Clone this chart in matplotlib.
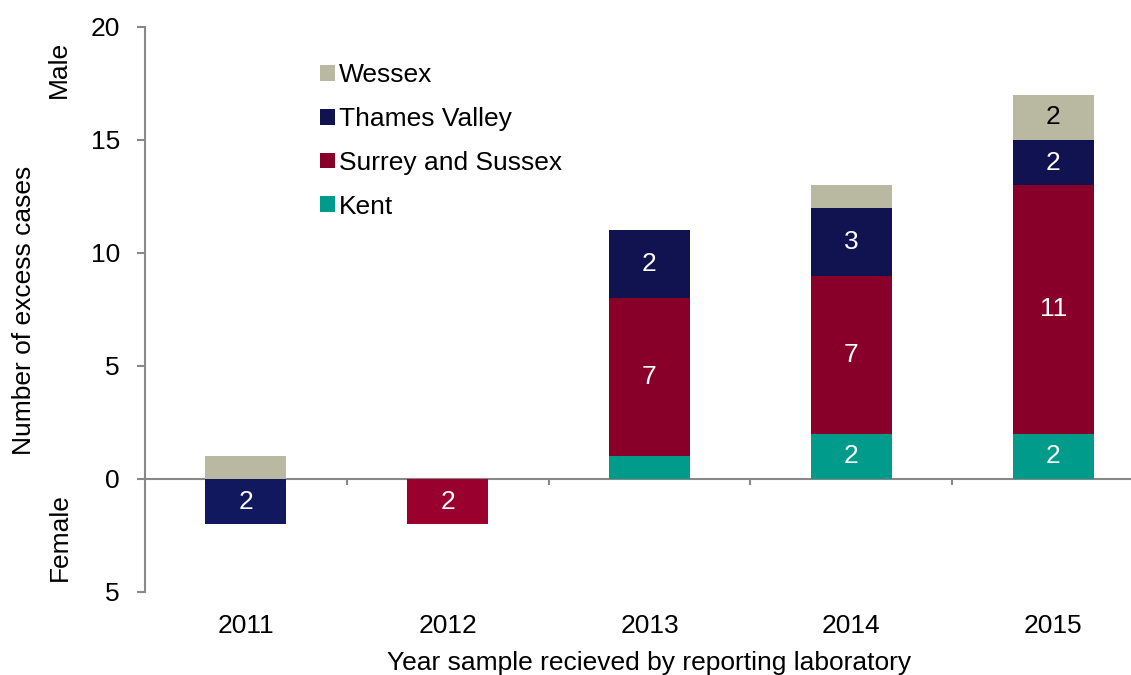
import numpy as np
from matplotlib import pyplot as plt
from matplotlib.ticker import FuncFormatter

plt.rcParams["font.family"] = ["Liberation Sans", "DejaVu Sans"]

years = ["2011", "2012", "2013", "2014", "2015"]
regions = ["Kent", "Surrey and Sussex", "Thames Valley", "Wessex"]

# male cases (stacked above zero)
male = {
    "Kent": [0, 0, 1, 2, 2],
    "Surrey and Sussex": [0, 0, 7, 7, 11],
    "Thames Valley": [0, 0, 3, 3, 2],
    "Wessex": [1, 0, 0, 1, 2],
}
# labels as printed in the original
male_labels = {
    "Kent": ["", "", "", "2", "2"],
    "Surrey and Sussex": ["", "", "7", "7", "11"],
    "Thames Valley": ["", "", "2", "3", "2"],
    "Wessex": ["", "", "", "", "2"],
}
# female cases (drawn below zero)
female = {
    "Kent": [0, 0, 0, 0, 0],
    "Surrey and Sussex": [0, 2, 0, 0, 0],
    "Thames Valley": [2, 0, 0, 0, 0],
    "Wessex": [0, 0, 0, 0, 0],
}

colors = {
    "Kent": "#009B8A",
    "Surrey and Sussex": "#88002A",
    "Thames Valley": "#10134F",
    "Wessex": "#B9B9A1",
}
female_colors = {
    "Kent": "#009B8A",
    "Surrey and Sussex": "#99002E",
    "Thames Valley": "#12185E",
    "Wessex": "#B9B9A1",
}
text_colors = {"Kent": "white", "Surrey and Sussex": "white",
               "Thames Valley": "white", "Wessex": "black"}

fig = plt.figure(figsize=(11.31, 6.75), dpi=100)
ax = fig.add_axes([0.128, 0.123, 0.8925, 0.837])

x = np.arange(len(years))
bw = 0.40
fs = 19

bottom = np.zeros(len(years))
bars = {}
for r in regions:
    vals = np.array(male[r], dtype=float)
    bars[r] = ax.bar(x, vals, bw, bottom=bottom, color=colors[r], label=r)
    for i, lab in enumerate(male_labels[r]):
        if lab:
            ax.text(x[i], bottom[i] + vals[i] / 2, lab, ha="center", va="center",
                    color=text_colors[r], fontsize=fs)
    bottom += vals

fbottom = np.zeros(len(years))
for r in regions:
    vals = np.array(female[r], dtype=float)
    ax.bar(x, -vals, bw, bottom=fbottom, color=female_colors[r])
    for i, v in enumerate(vals):
        if v >= 2:
            ax.text(x[i], fbottom[i] - v / 2, f"{int(v)}", ha="center", va="center",
                    color=text_colors[r], fontsize=fs)
    fbottom -= vals

ax.set_xlim(-0.5, len(years) - 0.5)
ax.set_ylim(-5, 20)

# zero line with category separator ticks
ax.axhline(0, color="#888888", lw=1.5, zorder=0)
ax.vlines(x[:-1] + 0.5, -0.27, 0, color="#888888", lw=1.5)

for s in ["top", "right", "bottom"]:
    ax.spines[s].set_visible(False)
ax.spines["left"].set_color("#888888")
ax.spines["left"].set_linewidth(1.5)

ax.set_yticks([-5, 0, 5, 10, 15, 20])
ax.yaxis.set_major_formatter(FuncFormatter(lambda v, p: f"{abs(int(v))}"))
ax.tick_params(axis="y", colors="#888888", length=6, width=1.5, labelsize=fs,
               labelcolor="black", pad=12)
ax.set_xticks(x)
ax.set_xticklabels(years)
ax.tick_params(axis="x", length=0, labelsize=fs, pad=16)

ax.set_xlabel("Year sample recieved by reporting laboratory", fontsize=fs, labelpad=9)
fig.text(0.021, 0.54, "Number of excess cases", rotation=90, ha="center",
         va="center", fontsize=fs)
fig.text(0.052, 0.897, "Male", rotation=90, ha="center", va="center", fontsize=fs)
fig.text(0.053, 0.205, "Female", rotation=90, ha="center", va="center", fontsize=fs)

handles = [bars[r] for r in regions[::-1]]
ax.legend(handles, regions[::-1], loc="upper left", bbox_to_anchor=(0.274, 0.922),
          bbox_transform=fig.transFigure, frameon=False, fontsize=fs,
          handlelength=0.55, handleheight=0.55, handletextpad=0.15,
          labelspacing=0.75, borderaxespad=0)

fig.savefig("out.png", dpi=100)
